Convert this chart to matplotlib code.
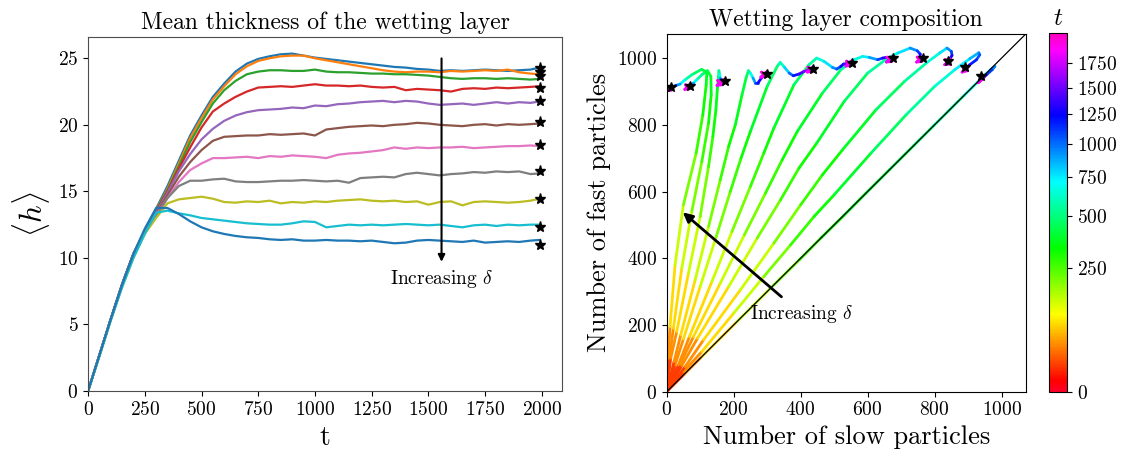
import numpy as np
import matplotlib
matplotlib.use("Agg")
import matplotlib.pyplot as plt
from matplotlib.collections import LineCollection
from matplotlib.colors import PowerNorm
from matplotlib.cm import ScalarMappable

plt.rcParams['font.family'] = 'cmr10'
plt.rcParams['mathtext.fontset'] = 'cm'
plt.rcParams['axes.formatter.use_mathtext'] = True

# ---- left panel: mean thickness <h> vs t, one curve per delta ----
t = [0, 50, 100, 150, 200, 250, 300, 350, 400, 450, 500, 550, 600, 650, 700, 750, 800, 850, 900, 950,
     1000, 1050, 1100, 1150, 1200, 1250, 1300, 1350, 1400, 1450, 1500, 1550, 1600, 1650, 1700, 1750,
     1800, 1850, 1900, 1950, 1990]

h0 = [0, 2.7, 5.4, 8.0, 10.3, 12.0, 13.7, 15.4, 17.3, 19.2, 20.7, 22.1, 23.1, 24.0, 24.6, 24.95, 25.15, 25.3, 25.35, 25.2, 25.05,
      24.95, 24.85, 24.75, 24.65, 24.55, 24.45, 24.35, 24.3, 24.2, 24.15, 24.05, 24.1, 24.05, 24.1, 24.15, 24.1, 24.05, 24.1, 24.15, 24.3]
h1 = [0, 2.7, 5.4, 8.0, 10.3, 12.0, 13.6, 15.2, 17.1, 19.0, 20.5, 21.9, 22.9, 23.8, 24.4, 24.8, 25.0, 25.15, 25.2, 25.2, 25.0,
      24.85, 24.7, 24.55, 24.4, 24.25, 24.1, 24.0, 23.95, 24.0, 24.0, 23.95, 24.05, 24.0, 24.05, 24.1, 24.05, 24.15, 23.95, 23.85, 23.8]
h2 = [0, 2.7, 5.4, 8.0, 10.3, 12.0, 13.6, 15.1, 16.9, 18.7, 20.2, 21.6, 22.6, 23.3, 23.8, 24.0, 24.1, 24.1, 24.05, 24.05, 24.15,
      24.0, 23.95, 23.95, 23.9, 23.85, 23.85, 23.8, 23.8, 23.75, 23.7, 23.6, 23.5, 23.45, 23.5, 23.5, 23.45, 23.5, 23.45, 23.4, 23.45]
h3 = [0, 2.7, 5.4, 8.0, 10.3, 12.0, 13.5, 15.0, 16.7, 18.3, 19.8, 21.0, 21.6, 22.1, 22.5, 22.8, 22.85, 22.9, 22.85, 22.95, 23.05,
      22.95, 22.95, 22.9, 22.95, 22.85, 22.8, 22.85, 22.6, 22.7, 22.65, 22.6, 22.5, 22.7, 22.75, 22.7, 22.8, 22.75, 22.8, 22.85, 22.9]
h4 = [0, 2.7, 5.4, 8.0, 10.3, 12.0, 13.4, 14.9, 16.5, 17.8, 18.9, 19.7, 20.3, 20.7, 20.95, 21.1, 21.15, 21.2, 21.3, 21.25, 21.45,
      21.4, 21.55, 21.6, 21.7, 21.75, 21.8, 21.7, 21.8, 21.75, 21.6, 21.5, 21.55, 21.6, 21.5, 21.6, 21.7, 21.6, 21.7, 21.65, 21.75]
h5 = [0, 2.7, 5.4, 8.0, 10.3, 12.0, 13.3, 14.7, 16.1, 17.2, 18.1, 18.8, 19.1, 19.15, 19.2, 19.2, 19.3, 19.25, 19.3, 19.35, 19.2,
      19.65, 19.75, 19.85, 19.9, 19.95, 19.9, 20.0, 20.05, 20.15, 20.1, 20.0, 19.95, 19.9, 20.0, 20.05, 19.95, 20.05, 20.0, 20.05, 20.1]
h6 = [0, 2.7, 5.4, 8.0, 10.3, 11.9, 13.2, 14.5, 15.7, 16.6, 17.1, 17.5, 17.5, 17.55, 17.6, 17.5, 17.65, 17.6, 17.7, 17.65, 17.6,
      17.5, 17.75, 17.85, 17.9, 18.0, 18.1, 18.3, 18.2, 18.3, 18.25, 18.3, 18.3, 18.35, 18.25, 18.3, 18.35, 18.4, 18.4, 18.45, 18.4]
h7 = [0, 2.7, 5.4, 8.0, 10.3, 11.9, 13.1, 14.5, 15.4, 15.8, 15.8, 15.9, 15.95, 15.75, 15.7, 15.7, 15.75, 15.8, 15.8, 15.85, 15.8,
      15.75, 15.8, 15.65, 16.0, 16.05, 16.1, 16.05, 16.3, 16.4, 16.3, 16.2, 16.3, 16.35, 16.45, 16.4, 16.5, 16.45, 16.5, 16.3, 16.35]
h8 = [0, 2.6, 5.3, 7.8, 10.0, 11.8, 13.0, 14.1, 14.4, 14.5, 14.6, 14.45, 14.2, 14.15, 14.25, 14.2, 14.3, 14.1, 14.2, 14.15, 14.25,
      14.2, 14.3, 14.35, 14.4, 14.3, 14.25, 14.3, 14.2, 14.25, 14.0, 14.2, 14.25, 13.95, 14.2, 14.25, 14.2, 14.15, 14.2, 14.3, 14.45]
h9 = [0, 2.6, 5.3, 7.8, 10.0, 11.8, 13.4, 13.55, 13.35, 13.2, 13.0, 12.9, 12.8, 12.7, 12.6, 12.55, 12.5, 12.5, 12.6, 12.75, 12.7,
      12.3, 12.4, 12.5, 12.45, 12.5, 12.45, 12.5, 12.55, 12.5, 12.45, 12.5, 12.4, 12.3, 12.45, 12.5, 12.4, 12.5, 12.45, 12.5, 12.5]
h10 = [0, 2.7, 5.4, 8.0, 10.3, 12.2, 13.75, 13.75, 13.3, 12.75, 12.3, 12.0, 11.8, 11.65, 11.55, 11.5, 11.4, 11.35, 11.4, 11.3, 11.3,
       11.35, 11.3, 11.3, 11.25, 11.3, 11.2, 11.1, 11.15, 11.3, 11.35, 11.3, 11.25, 11.2, 11.3, 11.15, 11.2, 11.25, 11.2, 11.3, 11.35]
thickness = [h0, h1, h2, h3, h4, h5, h6, h7, h8, h9, h10]

star_t = 1990
star_h = [24.3, 24.0, 23.65, 22.8, 21.8, 20.2, 18.5, 16.5, 14.4, 12.3, 11.0]

# ---- right panel: trajectories (slow, fast) coloured by t ----
traj_t = [
    [0, 25, 50, 100, 170, 240, 300, 350, 390, 430, 470, 510, 600, 700, 800, 900, 1000, 1200, 1400, 1600, 1750, 1850, 1900, 1950, 1990],
    [0, 25, 50, 100, 170, 240, 300, 350, 420, 500, 600, 700, 800, 900, 1000, 1100, 1250, 1400, 1600, 1750, 1850, 1900, 1950, 1990],
    [0, 25, 50, 100, 170, 240, 300, 350, 420, 500, 600, 700, 850, 1000, 1200, 1400, 1600, 1750, 1850, 1900, 1950, 1990],
    [0, 25, 50, 100, 170, 240, 300, 350, 420, 500, 600, 700, 850, 1000, 1200, 1400, 1600, 1750, 1850, 1900, 1950, 1990],
    [0, 25, 50, 100, 170, 240, 300, 350, 420, 500, 600, 700, 800, 1000, 1200, 1400, 1600, 1750, 1850, 1900, 1950, 1990],
    [0, 25, 50, 100, 170, 240, 300, 350, 420, 500, 600, 700, 850, 1000, 1150, 1300, 1500, 1650, 1750, 1850, 1900, 1950, 1990],
    [0, 25, 50, 100, 170, 240, 300, 350, 420, 500, 550, 700, 900, 1100, 1300, 1500, 1650, 1750, 1850, 1900, 1950, 1990],
    [0, 25, 50, 100, 170, 240, 300, 350, 390, 430, 470, 600, 800, 1000, 1200, 1400, 1600, 1750, 1850, 1900, 1950, 1990],
    [0, 25, 50, 100, 170, 240, 300, 350, 390, 430, 500, 600, 800, 1000, 1300, 1600, 1750, 1850, 1900, 1950, 1990],
    [0, 25, 50, 100, 170, 240, 300, 350, 390, 430, 500, 600, 800, 1000, 1300, 1600, 1750, 1850, 1900, 1950, 1990],
    [0, 25, 50, 100, 170, 240, 300, 350, 390, 430, 500, 600, 800, 1000, 1300, 1600, 1750, 1850, 1900, 1950, 1990],
]
traj_slow = [
    [0, 52, 104, 208, 308, 397, 462, 528, 593, 666, 739, 797, 889, 947, 968, 980, 972, 955, 942, 938, 948, 930, 946, 932, 938],
    [0, 50, 105, 200, 290, 370, 440, 500, 610, 715, 800, 860, 905, 932, 935, 925, 905, 895, 893, 900, 882, 898, 884, 890],
    [0, 55, 110, 220, 320, 400, 465, 525, 625, 710, 775, 815, 837, 850, 852, 846, 842, 848, 830, 846, 832, 838],
    [0, 45, 92, 185, 270, 340, 395, 448, 530, 600, 660, 690, 727, 748, 757, 756, 757, 764, 746, 762, 748, 755],
    [0, 40, 80, 160, 232, 295, 345, 390, 465, 520, 560, 585, 605, 630, 645, 655, 662, 674, 656, 672, 658, 665],
    [0, 35, 68, 135, 195, 250, 290, 320, 380, 425, 448, 470, 495, 508, 520, 528, 538, 544, 553, 535, 551, 537, 544],
    [0, 25, 50, 100, 148, 190, 222, 250, 300, 330, 339, 352, 366, 378, 395, 410, 420, 438, 420, 436, 422, 429],
    [0, 22, 42, 85, 125, 160, 185, 205, 225, 237, 244, 250, 258, 265, 272, 283, 290, 299, 281, 297, 283, 290],
    [0, 12, 30, 65, 100, 125, 138, 147, 152, 155, 156, 158, 160, 161, 162, 163, 168, 150, 166, 152, 159],
    [0, 8, 20, 45, 75, 105, 125, 133, 132, 122, 105, 90, 80, 74, 69, 66, 70, 54, 68, 56, 62],
    [0, 4, 10, 25, 50, 88, 108, 118, 120, 104, 75, 55, 40, 28, 18, 12, 16, 2, 14, 4, 9],
]
traj_fast = [
    [0, 52, 104, 208, 308, 396, 462, 527, 593, 666, 739, 797, 889, 946, 966, 975, 965, 950, 938, 934, 943, 926, 940, 928, 934],
    [0, 60, 120, 235, 345, 440, 525, 590, 715, 830, 915, 965, 998, 1016, 1010, 995, 980, 970, 968, 974, 958, 962, 973, 965],
    [0, 75, 155, 305, 445, 560, 650, 725, 845, 930, 985, 1015, 1030, 1020, 1008, 998, 992, 997, 980, 982, 996, 988],
    [0, 78, 160, 315, 460, 575, 670, 745, 870, 955, 1000, 1015, 1030, 1022, 1012, 1000, 996, 1004, 988, 990, 1003, 996],
    [0, 82, 165, 325, 470, 595, 695, 780, 895, 965, 995, 1005, 1002, 995, 1000, 1002, 1000, 1004, 988, 990, 1003, 996],
    [0, 80, 165, 330, 480, 615, 715, 790, 920, 980, 1000, 990, 972, 967, 975, 982, 984, 985, 992, 976, 978, 991, 984],
    [0, 80, 158, 315, 465, 600, 700, 780, 915, 975, 987, 972, 955, 947, 952, 960, 963, 974, 958, 960, 973, 966],
    [0, 90, 170, 335, 495, 635, 735, 800, 890, 940, 962, 955, 940, 925, 925, 940, 950, 959, 943, 945, 958, 951],
    [0, 100, 180, 355, 525, 675, 765, 845, 915, 945, 962, 950, 940, 935, 930, 928, 935, 918, 920, 933, 926],
    [0, 100, 190, 370, 540, 690, 805, 890, 945, 962, 950, 935, 925, 920, 916, 915, 922, 906, 908, 920, 913],
    [0, 100, 195, 380, 560, 715, 830, 920, 958, 966, 950, 935, 922, 918, 912, 910, 917, 902, 904, 915, 909],
]
star_slow = [940, 892, 839, 765, 677, 553, 438, 301, 174, 70, 12]
star_fast = [947, 974, 990, 1001, 999, 985, 967, 952, 930, 916, 912]

cbar_ticks = [0, 250, 500, 750, 1000, 1250, 1500, 1750]

fig = plt.figure(figsize=(11.29, 4.51), dpi=100)

# left
ax1 = fig.add_axes([0.078, 0.133, 0.420, 0.785])
for h in thickness:
    ax1.plot(t, h, lw=1.6)
ax1.plot([star_t] * len(star_h), star_h, '*', color='k', ms=8, zorder=5)
ax1.annotate('', xy=(1558, 9.5), xytext=(1558, 25.2),
             arrowprops=dict(arrowstyle='-|>', color='k', lw=1.5, mutation_scale=10))
ax1.text(1558, 8.4, r'Increasing $\delta$', ha='center', va='center', fontsize=14)
ax1.set_xlim(0, 2090)
ax1.set_ylim(0, 26.6)
ax1.set_xticks([0, 250, 500, 750, 1000, 1250, 1500, 1750, 2000])
ax1.set_yticks([0, 5, 10, 15, 20, 25])
ax1.tick_params(labelsize=14)
ax1.set_xlabel('t', fontsize=20)
ax1.set_ylabel(r'$\langle h \rangle$', fontsize=22)
ax1.set_title('Mean thickness of the wetting layer', fontsize=17)
for s in ax1.spines.values():
    s.set_color('0.3')

# right
norm = PowerNorm(gamma=0.5, vmin=0, vmax=2090)
cmap = plt.get_cmap('gist_rainbow')
ax2 = fig.add_axes([0.5905, 0.1315, 0.318, 0.793])
for tt, xs, ys in zip(traj_t, traj_slow, traj_fast):
    pts = np.column_stack([xs, ys])
    segs = np.stack([pts[:-1], pts[1:]], axis=1)
    tm = (np.array(tt[:-1]) + np.array(tt[1:])) / 2
    lc = LineCollection(segs, cmap=cmap, norm=norm, linewidths=2.0, capstyle='round')
    lc.set_array(tm)
    ax2.add_collection(lc)
ax2.plot([0, 1075], [0, 1075], color='k', lw=0.9, zorder=4)
ax2.plot(star_slow, star_fast, '*', color='k', ms=7, zorder=5)
ax2.annotate('', xy=(42, 543), xytext=(349, 279),
             arrowprops=dict(arrowstyle='-|>', color='k', lw=2, mutation_scale=14))
ax2.text(249, 234, r'Increasing $\delta$', ha='left', va='center', fontsize=14)
ax2.set_xlim(0, 1072)
ax2.set_ylim(0, 1072)
ax2.set_xticks([0, 200, 400, 600, 800, 1000])
ax2.set_yticks([0, 200, 400, 600, 800, 1000])
ax2.tick_params(labelsize=14)
ax2.set_xlabel('Number of slow particles', fontsize=19)
ax2.set_ylabel('Number of fast particles', fontsize=19)
ax2.set_title('Wetting layer composition', fontsize=17)

cax = fig.add_axes([0.929, 0.131, 0.016, 0.796])
sm = ScalarMappable(norm=norm, cmap=cmap)
cb = fig.colorbar(sm, cax=cax, ticks=cbar_ticks)
cb.ax.tick_params(labelsize=14)
cax.set_title(r'$t$', fontsize=18)

fig.savefig('out.png', dpi=100)
